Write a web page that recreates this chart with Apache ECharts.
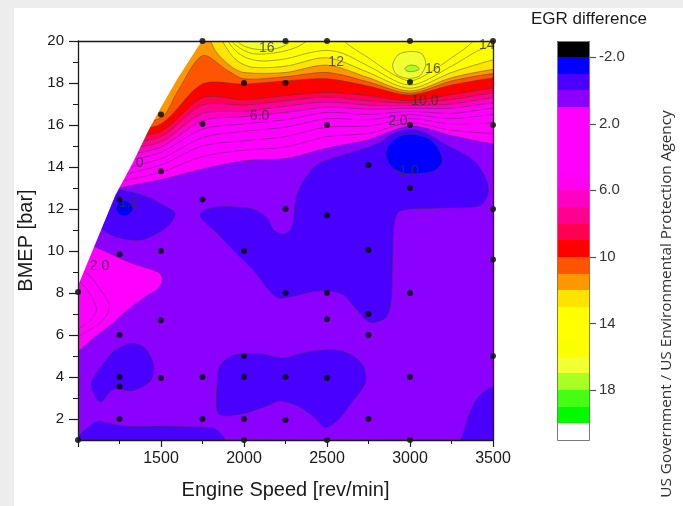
<!DOCTYPE html>
<html>
<head>
<meta charset="utf-8">
<title>EGR difference map</title>
<script src="https://cdn.jsdelivr.net/npm/echarts@6.0.0/dist/echarts.min.js"></script>
<style>
  html, body { margin: 0; padding: 0; background: #ffffff; }
  #chart { width: 683px; height: 506px; }
</style>
</head>
<body>
<div id="chart"></div>
<script>
// ---------- axes ----------
const speedRange = [1000, 3500];
const bmepRange = [1, 20];
const bmepLabels = [2, 4, 6, 8, 10, 12, 14, 16, 18, 20];
const bmepMinor = [3, 5, 7, 9, 11, 13, 15, 17, 19];

// ---------- colour scale (one band per unit of EGR difference) ----------
const scaleLevels = [-3, -2, -1, 0, 1, 2, 3, 4, 5, 6, 7, 8, 9, 10, 11, 12, 13, 14, 15, 16, 17, 18, 19, 20, 21];
const scaleTicks = [-2, 2, 6, 10, 14, 18];

// ---------- measured operating points [rev/min, bar] ----------
const testPoints = [
  [1000, 8.05], [1000, 1], [1250, 12.45], [1250, 9.85], [1250, 6], [1250, 4], [1250, 3.55], [1250, 2],
  [1500, 16.5], [1500, 13.8], [1500, 10], [1500, 6.7], [1500, 3.95],
  [1750, 20], [1750, 16.05], [1750, 12.45], [1750, 4], [1750, 2],
  [2000, 18], [2000, 10], [2000, 5], [2000, 4], [2000, 2], [2000, 1],
  [2250, 20], [2250, 18], [2250, 12], [2250, 8], [2250, 4], [2250, 1.95],
  [2500, 20], [2500, 16], [2500, 11.7], [2500, 8], [2500, 6.75], [2500, 3.95], [2500, 1],
  [2750, 14.1], [2750, 10.05], [2750, 7], [2750, 6], [2750, 2],
  [3000, 20], [3000, 18.05], [3000, 16], [3000, 13], [3000, 8], [3000, 4], [3000, 1],
  [3500, 20], [3500, 16], [3500, 12], [3500, 9.6], [3500, 5]
];

// ---------- lower field: closed regions [rev/min, bar] ----------
// band -1..0
const zoneA = [[1100,13.3],[1180,13.1],[1260,12.9],[1350,12.75],[1440,12.5],[1520,12.15],[1585,11.8],[1550,11.25],[1470,10.8],[1380,10.52],[1270,10.58],[1180,10.85],[1100,11.4]];
const zoneB = [[1735,11.7],[1760,11.95],[1850,12.1],[1936,12.1],[2050,12.0],[2137,11.6],[2180,11.0],[2230,10.8],[2280,11.0],[2300,11.6],[2310,12.4],[2337,13.05],[2400,13.8],[2458,14.2],[2638,14.67],[2801,15.1],[2900,15.6],[3000,15.8],[3100,15.6],[3199,15.14],[3380,14.33],[3460,13.4],[3470,12.7],[3420,12.15],[3181,12.05],[2940,11.9],[2905,11.3],[2895,9.5],[2885,7.5],[2850,6.8],[2760,6.6],[2680,7.2],[2600,7.9],[2506,8.1],[2400,8.05],[2300,7.85],[2196,7.8],[2054,9.1],[1934,10.05],[1837,10.86],[1760,11.4]];
const zoneD = [[1080,3.7],[1110,3.0],[1140,2.8],[1210,3.4],[1330,3.35],[1440,3.85],[1455,4.6],[1400,5.4],[1320,5.6],[1220,5.25],[1140,4.5]];
const zoneE = [[1840,3.9],[1840,2.3],[1900,2.15],[2018,2.3],[2130,2.6],[2220,2.85],[2330,2.6],[2420,2.1],[2490,1.6],[2560,1.9],[2650,2.8],[2730,3.7],[2720,4.5],[2650,5.05],[2540,5.3],[2440,5.25],[2330,5.1],[2240,4.9],[2100,5.1],[1940,5.05],[1860,4.6]];
const zoneF = [[960,0.5],[960,1.0],[1000,1.2],[1060,1.6],[1120,1.9],[1180,1.8],[1300,1.65],[1500,1.65],[1700,1.62],[1820,1.55],[1880,1.1],[1900,0.5]];
const zoneG = [[3290,0.5],[3320,1.3],[3370,2.5],[3430,3.2],[3520,3.6],[3600,3.6],[3600,0.5]];
// band -2..-1
const coreA = [[1235,12.2],[1270,12.4],[1310,12.3],[1330,12.0],[1300,11.7],[1255,11.72],[1232,11.95]];
const coreC = [[2855,14.6],[2870,15.0],[2930,15.45],[3010,15.55],[3100,15.4],[3160,15.0],[3195,14.3],[3150,13.85],[3070,13.7],[2960,13.72],[2885,14.05]];
// bands 1..4 at low speed, part load
const lobe1 = [[900,11.5],[1060,10.4],[1200,9.85],[1330,9.4],[1480,9.0],[1510,8.65],[1480,8.2],[1400,7.8],[1300,7.2],[1200,6.5],[1100,5.9],[1000,5.2],[900,4.5]];
const lobe2 = [[900,9.6],[1060,8.9],[1130,8.2],[1190,7.4],[1150,6.7],[1060,6.2],[900,5.6]];
const lobe3 = [[900,9.0],[1030,8.4],[1110,7.25],[1060,6.6],[900,6.0]];

// ---------- upper field: iso-lines, region above each line exceeds the level ----------
const iso1 = [[900,12.3],[1250,13.0],[1500,13.4],[1750,13.9],[2000,14.3],[2250,14.4],[2500,14.9],[2750,15.3],[3000,15.95],[3250,15.5],[3500,15.1],[3650,15.0]];
const iso2 = [[900,12.6],[1250,13.3],[1500,13.75],[1750,14.5],[2000,14.8],[2250,14.95],[2500,15.45],[2750,15.6],[3000,16.1],[3250,15.75],[3500,15.6],[3650,15.6]];
const iso3 = [[900,12.9],[1250,13.6],[1500,14.1],[1750,15.0],[2000,15.25],[2250,15.45],[2500,15.9],[2750,15.95],[3000,16.3],[3250,16.05],[3500,16.1],[3650,16.1]];
const iso4 = [[900,13.2],[1250,13.9],[1500,14.4],[1750,15.4],[2000,15.7],[2250,15.9],[2500,16.3],[2750,16.25],[3000,16.5],[3250,16.3],[3500,16.5],[3650,16.5]];
const iso5 = [[900,13.5],[1250,14.2],[1500,14.7],[1750,15.8],[2000,16.05],[2250,16.25],[2500,16.6],[2750,16.5],[3000,16.65],[3250,16.55],[3500,16.8],[3650,16.8]];
const iso6 = [[900,13.8],[1250,14.5],[1500,14.95],[1750,16.2],[2000,16.4],[2250,16.6],[2500,16.85],[2750,16.75],[3000,16.8],[3250,16.8],[3500,17.05],[3650,17.05]];
const iso7 = [[900,14.1],[1250,14.8],[1500,15.2],[1750,16.55],[2000,16.65],[2250,16.9],[2500,17.1],[2750,16.95],[3000,16.93],[3250,17.0],[3500,17.3],[3650,17.3]];
const iso8 = [[900,14.4],[1250,15.1],[1500,15.45],[1750,16.95],[2000,16.95],[2250,17.15],[2500,17.33],[2750,17.15],[3000,17.05],[3250,17.22],[3500,17.52],[3650,17.52]];
const iso9 = [[900,14.7],[1250,15.4],[1500,15.7],[1750,17.3],[2000,17.2],[2250,17.4],[2500,17.55],[2750,17.4],[3000,17.15],[3250,17.45],[3500,17.76],[3650,17.8]];
const iso10 = [[900,15.0],[1250,15.7],[1500,16.05],[1750,17.95],[2000,17.95],[2250,18.1],[2500,18.2],[2750,17.85],[3000,17.43],[3250,17.9],[3500,18.24],[3650,18.3]];
const iso11 = [[900,15.2],[1250,16.0],[1500,16.35],[1600,17.6],[1750,19.3],[1900,18.6],[2000,18.2],[2250,18.3],[2500,18.5],[2750,18.05],[3000,17.52],[3250,18.1],[3500,18.45],[3650,18.5]];
const iso12 = [[900,21],[1700,21],[1780,20.3],[1830,19.5],[1920,18.8],[2000,18.5],[2250,18.5],[2500,18.85],[2750,18.25],[3000,17.62],[3250,18.25],[3500,18.65],[3650,18.75]];
const iso13 = [[900,21],[1800,21],[1850,20.3],[1900,19.6],[1960,19.05],[2050,18.75],[2250,18.8],[2500,19.2],[2750,18.5],[3000,17.75],[3250,18.5],[3500,19.1],[3650,19.3]];
const iso14 = [[900,21],[1830,21],[1880,20.3],[1930,19.7],[2000,19.25],[2100,19.05],[2250,19.15],[2400,19.45],[2500,19.55],[2600,19.4],[2750,18.8],[3000,17.9],[3250,18.8],[3400,19.5],[3500,19.85],[3560,20.4],[3650,21]];
const iso15 = [[900,21],[1860,21],[1900,20.3],[1950,19.8],[2050,19.4],[2200,19.45],[2330,19.75],[2420,20.3],[2500,21],[2560,20.3],[2650,19.7],[2750,19.2],[2880,18.5],[3000,18.1],[3120,18.5],[3250,19.2],[3340,19.7],[3420,20.3],[3500,21],[3650,21]];
const iso16 = [[900,21],[1900,21],[1930,20.3],[1990,19.8],[2080,19.6],[2180,19.62],[2260,19.85],[2300,20.3],[2330,21],[3650,21]];
const peak16 = [[2895,18.85],[2930,19.35],[3000,19.5],[3070,19.4],[3095,18.9],[3060,18.35],[2990,18.22],[2920,18.4]];
const peak17 = [[2970,18.7],[3000,18.85],[3040,18.8],[3055,18.65],[3020,18.55],[2980,18.57]];

// ---------- no-data corner (high load at low speed) ----------
const limitLine = [[1000,8.35],[1225,12.65],[1330,14.2],[1422,15.7],[1500,16.85],[1600,18.22],[1745,20]];

// ---------- contour labels [rev/min, bar, text] ----------
const contourLabels = [
  [2137, 19.65, '16'], [2555, 18.98, '12'], [3138, 18.66, '16'], [3462, 19.8, '14'],
  [3090, 17.15, '10.0'], [2094, 16.42, '6.0'], [2927, 16.16, '2.0'], [2980, 13.78, '-1.0'],
  [1371, 14.17, '0'], [1306, 12.3, '1.0'], [1130, 9.3, '2.0']
];

// ---------- drawing ----------
const palette = ['#000000','#0000ff','#4a00ff','#8c00ff','#ff00ff','#ff00ff','#ff00ff','#ff00ff','#ff00f0',
  '#ff00c4','#ff0090','#ff0052','#ff0000','#ff5400','#ff9800','#ffe400','#ffff00','#ffff00','#fcff00',
  '#f2ff30','#aaff22','#44ff14','#00fa00','#ffffff'];
const bandColor = k => palette[k - scaleLevels[0]];
const FONT = '"Liberation Sans", Arial, Helvetica, sans-serif';
const LINE = 'rgba(55,55,55,0.55)';

const fieldPatches = [];
const addPatch = (band, pts, opts) => fieldPatches.push(Object.assign({ band, pts, smooth: 0.3, line: true }, opts || {}));
const above = iso => iso.concat([[3700, 22], [800, 22]]);

addPatch(0, [[speedRange[0], bmepRange[0]], [speedRange[1], bmepRange[0]], [speedRange[1], bmepRange[1]], [speedRange[0], bmepRange[1]]], { smooth: 0, line: false });
[zoneA, zoneB, zoneD, zoneE, zoneF, zoneG].forEach(z => addPatch(-1, z));
[coreA, coreC].forEach(z => addPatch(-2, z));
addPatch(1, lobe1); addPatch(2, lobe2); addPatch(3, lobe3);
[iso1, iso2, iso3, iso4, iso5, iso6, iso7, iso8, iso9, iso10, iso11, iso12, iso13, iso14, iso15, iso16]
  .forEach((iso, i) => addPatch(i + 1, above(iso)));
addPatch(16, peak16);
addPatch(17, peak17);

const chart = echarts.init(document.getElementById('chart'), null, { renderer: 'canvas' });

const axisCommon = { lineStyle: { color: '#1a1a1a', width: 1.3 } };

// colour bar: bands, frame and ticks in one group
function renderScale(params, api) {
  const children = [];
  for (let i = 0; i < scaleLevels.length - 1; i++) {
    const a = api.coord([0, scaleLevels[i]]), b = api.coord([1, scaleLevels[i + 1]]);
    const y0 = Math.round(Math.min(a[1], b[1])), y1 = Math.round(Math.max(a[1], b[1]));
    children.push({ type: 'rect', shape: { x: a[0], y: y0, width: b[0] - a[0], height: y1 - y0 },
      style: { fill: bandColor(scaleLevels[i]) } });
  }
  const t = api.coord([0, scaleLevels[0]]), u = api.coord([1, scaleLevels[scaleLevels.length - 1]]);
  children.push({ type: 'rect', shape: { x: t[0] + 0.5, y: Math.round(t[1]) + 0.5, width: u[0] - t[0] - 1, height: Math.round(u[1]) - Math.round(t[1]) },
    style: { fill: null, stroke: '#7a7a7a', lineWidth: 1 } });
  scaleTicks.forEach(v => {
    const p = api.coord([1, v]);
    const y = Math.round(p[1]) + 0.5;
    children.push({ type: 'line', shape: { x1: p[0], y1: y, x2: p[0] + 6, y2: y }, style: { stroke: '#555', lineWidth: 1.2 } });
  });
  return { type: 'group', children };
}

chart.setOption({
  animation: false,
  backgroundColor: '#ffffff',
  title: {
    text: 'EGR difference', left: 531, top: 11, padding: 0,
    textStyle: { fontFamily: FONT, fontSize: 17, fontWeight: 'normal', color: '#1a1a1a' }
  },
  graphic: [
    { type: 'rect', left: 0, top: 0, shape: { width: 683, height: 8 }, style: { fill: '#ededed' }, z: -1 },
    { type: 'rect', left: 0, top: 0, shape: { width: 14, height: 506 }, style: { fill: '#ededed' }, z: -1 },
    {
      type: 'text', x: 667, y: 304, rotation: Math.PI / 2,
      style: { text: 'US Government / US Environmental Protection Agency', font: '15.3px "Open Sans", "Noto Sans", sans-serif',
        fill: '#333333', align: 'center', verticalAlign: 'middle' }
    }
  ],
  grid: [
    { left: 78, top: 41, width: 415, height: 399, outerBoundsMode: 'none', containLabel: false },
    { left: 557, top: 40.5, width: 33, height: 399.5, outerBoundsMode: 'none', containLabel: false }
  ],
  xAxis: [
    {
      gridIndex: 0, type: 'value', min: speedRange[0], max: speedRange[1], interval: 500, position: 'bottom', z: 10,
      axisLine: Object.assign({ show: true, onZero: false }, axisCommon),
      axisTick: { show: true, inside: false, length: 7, lineStyle: { color: '#1a1a1a', width: 1.2 } },
      minorTick: { show: true, splitNumber: 2, length: 4, lineStyle: { color: '#1a1a1a', width: 1 } },
      axisLabel: { fontFamily: FONT, fontSize: 16, color: '#1a1a1a', margin: 11, formatter: v => (v === speedRange[0] ? '' : String(v)) },
      splitLine: { show: false }, minorSplitLine: { show: false },
      name: 'Engine Speed [rev/min]', nameLocation: 'middle', nameGap: 40,
      nameTextStyle: { fontFamily: FONT, fontSize: 20, color: '#1a1a1a' }
    },
    {
      gridIndex: 0, type: 'value', min: speedRange[0], max: speedRange[1], position: 'top', z: 10,
      axisLine: Object.assign({ show: true, onZero: false }, axisCommon),
      axisTick: { show: false }, axisLabel: { show: false }, splitLine: { show: false }
    },
    { gridIndex: 1, type: 'value', min: 0, max: 1, show: false }
  ],
  yAxis: [
    {
      gridIndex: 0, type: 'value', min: bmepRange[0], max: bmepRange[1], interval: 1, position: 'left', z: 10,
      axisLine: Object.assign({ show: true, onZero: false }, axisCommon),
      axisTick: { show: true, inside: false, length: 9, customValues: bmepLabels, lineStyle: { color: '#1a1a1a', width: 1.2 } },
      axisLabel: { fontFamily: FONT, fontSize: 15, color: '#1a1a1a', margin: 14, customValues: bmepLabels },
      splitLine: { show: false },
      name: 'BMEP [bar]', nameLocation: 'middle', nameGap: 40, nameRotate: 90,
      nameTextStyle: { fontFamily: FONT, fontSize: 20, color: '#1a1a1a' }
    },
    {
      gridIndex: 0, type: 'value', min: bmepRange[0], max: bmepRange[1], interval: 1, position: 'left', z: 10,
      axisLine: { show: false },
      axisTick: { show: true, inside: false, length: 5, customValues: bmepMinor, lineStyle: { color: '#1a1a1a', width: 1 } },
      axisLabel: { show: false }, splitLine: { show: false }
    },
    {
      gridIndex: 0, type: 'value', min: bmepRange[0], max: bmepRange[1], position: 'right', z: 10,
      axisLine: Object.assign({ show: true, onZero: false }, axisCommon),
      axisTick: { show: false }, axisLabel: { show: false }, splitLine: { show: false }
    },
    {
      gridIndex: 1, type: 'value', min: scaleLevels[0], max: scaleLevels[scaleLevels.length - 1], inverse: true, position: 'right', z: 10,
      axisLine: { show: false },
      axisTick: { show: false },
      axisLabel: { fontFamily: FONT, fontSize: 15, color: '#333', margin: 9, customValues: scaleTicks,
        formatter: v => (Math.abs(v) < 10 ? Number(v).toFixed(1) : String(v)) },
      splitLine: { show: false }
    }
  ],
  series: [
    {
      name: 'field', type: 'custom', coordinateSystem: 'cartesian2d', xAxisIndex: 0, yAxisIndex: 0, clip: true, z: 2,
      data: fieldPatches.map((p, i) => [i]),
      renderItem: (params, api) => {
        const p = fieldPatches[params.dataIndex];
        return {
          type: 'polygon',
          shape: { points: p.pts.map(q => api.coord(q)), smooth: p.smooth },
          style: { fill: bandColor(p.band), stroke: p.line ? LINE : null, lineWidth: 0.8 }
        };
      },
      silent: true
    },
    {
      name: 'limit', type: 'custom', coordinateSystem: 'cartesian2d', xAxisIndex: 0, yAxisIndex: 0, clip: true, z: 3,
      data: [[0]],
      renderItem: (params, api) => {
        const edge = limitLine.concat([[limitLine[limitLine.length - 1][0], 21], [900, 21], [900, limitLine[0][1]]]);
        return { type: 'polygon', shape: { points: edge.map(q => api.coord(q)) }, style: { fill: '#ffffff' } };
      },
      silent: true
    },
    {
      name: 'points', type: 'scatter', xAxisIndex: 0, yAxisIndex: 0, z: 4,
      symbol: 'circle', symbolSize: 6, itemStyle: { color: '#000000' },
      data: testPoints, silent: true
    },
    {
      name: 'levels', type: 'scatter', xAxisIndex: 0, yAxisIndex: 0, z: 5, symbolSize: 0,
      data: contourLabels.map(l => [l[0], l[1]]),
      label: { show: true, position: 'inside', fontFamily: FONT, fontSize: 14, color: '#333333',
        formatter: p => contourLabels[p.dataIndex][2] },
      silent: true
    },
    {
      name: 'scale', type: 'custom', coordinateSystem: 'cartesian2d', xAxisIndex: 2, yAxisIndex: 3, z: 2,
      data: [[0.5, 0]],
      renderItem: renderScale,
      silent: true
    }
  ]
});
</script>
</body>
</html>
